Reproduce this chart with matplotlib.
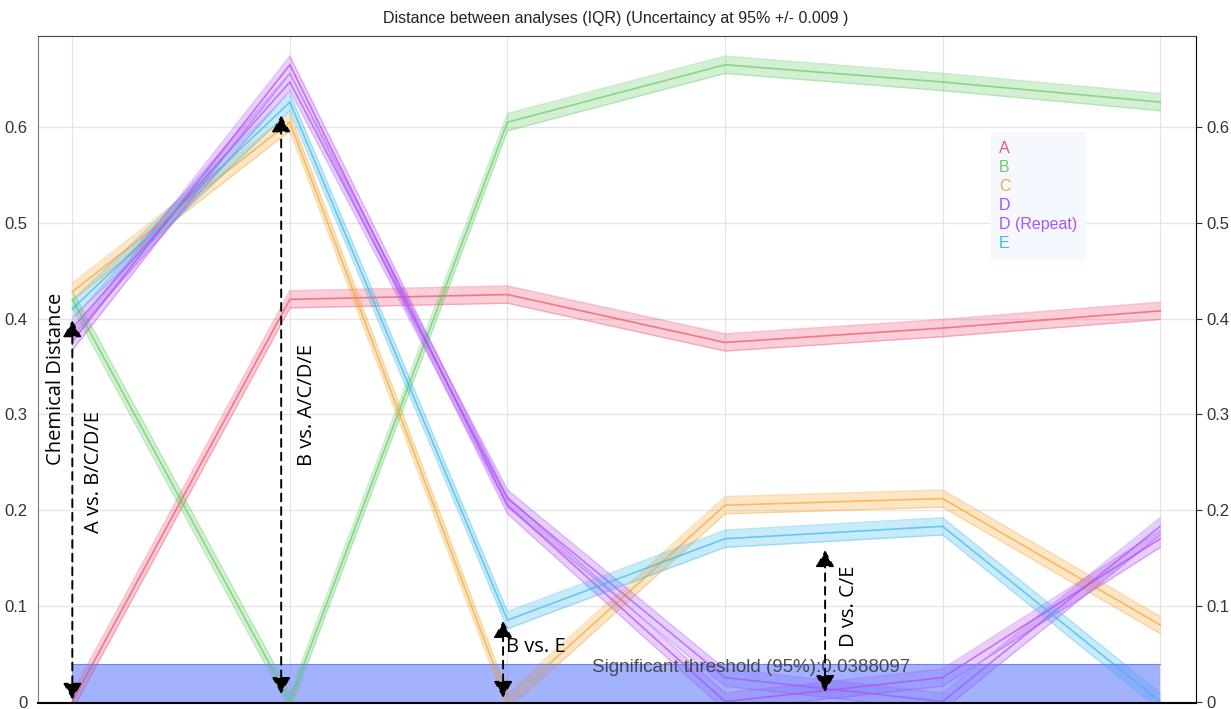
import matplotlib.pyplot as plt
from matplotlib.lines import Line2D
import numpy as np

# analyses on the x axis, each line = distance of one analysis to all others
positions = [0, 1, 2, 3, 4, 5]
names = ["A", "B", "C", "D", "D (Repeat)", "E"]
dist_A = [0.000, 0.420, 0.425, 0.375, 0.390, 0.408]
dist_B = [0.420, 0.000, 0.605, 0.665, 0.647, 0.626]
dist_C = [0.428, 0.605, 0.000, 0.205, 0.212, 0.080]
dist_D = [0.376, 0.665, 0.205, 0.000, 0.025, 0.170]
dist_Drep = [0.390, 0.647, 0.212, 0.025, 0.000, 0.183]
dist_E = [0.410, 0.626, 0.085, 0.170, 0.183, 0.000]
colors = ["#F0506E", "#66CC66", "#F5A834", "#B04CF0", "#A855F7", "#3CB8EE"]
uncert = 0.009
threshold = 0.0388097

series = [dist_A, dist_B, dist_C, dist_D, dist_Drep, dist_E]

fig = plt.figure(figsize=(12.31, 7.09), dpi=100)
ax = fig.add_axes([0.031, 0.0085, 0.9406, 0.9407])

for vals, c in zip(series, colors):
    v = np.array(vals)
    ax.fill_between(positions, v - uncert, v + uncert, color=c, alpha=0.28, lw=0)
    ax.plot(positions, v - uncert, color=c, alpha=0.35, lw=1)
    ax.plot(positions, v + uncert, color=c, alpha=0.35, lw=1)
    ax.plot(positions, v, color=c, alpha=0.7, lw=1.2)

# significance band
ax.fill_between([0, 5], 0, threshold, color="#6680FF", alpha=0.6, lw=0)
ax.plot([0, 5], [threshold, threshold], color="#7085F5", lw=0.8)
ax.text(3.12, threshold - 0.003, "Significant threshold (95%):0.0388097",
        ha="center", va="center", fontsize=13.5, color="#333333", alpha=0.85,
        family="Liberation Sans")

# double arrows with labels
arrows = [(0.0, 0.002, 0.398), (0.96, 0.008, 0.612), (1.98, 0.004, 0.084), (3.46, 0.01, 0.158)]
for xa, y0, y1 in arrows:
    ax.annotate("", xy=(xa, y1), xytext=(xa, y0),
                arrowprops=dict(arrowstyle="<|-|>,head_length=0.5,head_width=0.28",
                                ls=(0, (4, 3)), lw=1.4, color="black",
                                mutation_scale=20, shrinkA=0, shrinkB=0))

txt = dict(fontsize=14.5, family="Open Sans", color="black")
ax.text(0.1, 0.24, "A vs. B/C/D/E", rotation=90, ha="center", va="center", **txt)
ax.text(1.08, 0.31, "B vs. A/C/D/E", rotation=90, ha="center", va="center", **txt)
ax.text(1.995, 0.057, "B vs. E", ha="left", va="center", **txt)
ax.text(3.57, 0.1, "D vs. C/E", rotation=90, ha="center", va="center", **txt)
ax.text(-0.075, 0.337, "Chemical Distance", rotation=90, ha="center", va="center", **txt)

ax.set_xlim(-0.157, 5.165)
ax.set_ylim(-0.0015, 0.695)
ax.set_xticks(positions)
ax.set_xticklabels([])
ax.set_yticks([0, 0.1, 0.2, 0.3, 0.4, 0.5, 0.6])
ax.set_yticklabels(["0", "0.1", "0.2", "0.3", "0.4", "0.5", "0.6"])
ax.tick_params(axis="y", labelright=True, right=True, left=False, length=4,
               labelsize=12, colors="#333333")
ax.tick_params(axis="x", length=0)
for lab in ax.get_yticklabels():
    lab.set_family("Liberation Sans")
ax.grid(True, color="#E6E6E6", lw=1)
ax.set_axisbelow(True)
ax.spines["left"].set_color("#777777")
ax.spines["top"].set_color("#444444")
ax.spines["right"].set_color("black")
ax.spines["bottom"].set_color("black")
ax.spines["bottom"].set_linewidth(1.5)

handles = [Line2D([], [], color=c, lw=0) for c in colors]
leg = ax.legend(handles, names, loc="upper left", bbox_to_anchor=(0.8155, 0.8675),
                handlelength=0, handletextpad=0, labelcolor="linecolor",
                frameon=True, fancybox=True, borderpad=0.55,
                labelspacing=0.25, prop={"family": "Liberation Sans", "size": 11.5})
leg.get_frame().set_facecolor("#F6F8FF")
leg.get_frame().set_edgecolor("none")
leg.get_frame().set_alpha(1)

fig.suptitle("Distance between analyses (IQR) (Uncertaincy at 95% +/- 0.009 )",
             y=0.985, fontsize=11.5, family="Liberation Sans", color="#222222")

fig.savefig("out.png", dpi=100)
